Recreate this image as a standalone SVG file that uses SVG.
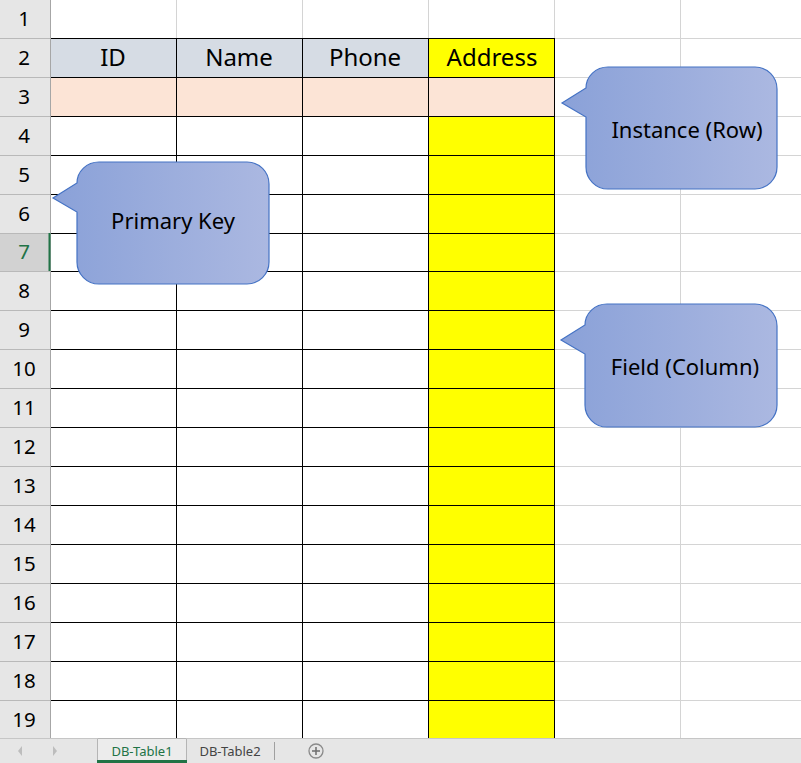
<svg xmlns="http://www.w3.org/2000/svg" width="801" height="763" viewBox="0 0 801 763">
<defs>
<linearGradient id="cg" x1="0" y1="0" x2="1" y2="0">
<stop offset="0" stop-color="#8aa1d8"/>
<stop offset="1" stop-color="#abb8e1"/>
</linearGradient>
<style>
.grid{stroke:#d4d4d4;stroke-width:1}
.blk{stroke:#000;stroke-width:1}
.rh{font-family:"Noto Sans","Open Sans",sans-serif;font-size:20.5px;fill:#000;text-anchor:middle}
.hd{font-family:"Noto Sans","Open Sans",sans-serif;font-size:24px;fill:#000;text-anchor:middle}
.co{fill:url(#cg);stroke:#4472c4;stroke-width:1.2}
.ct{font-family:"Noto Sans","Open Sans",sans-serif;font-size:22px;fill:#000;text-anchor:middle}
.tab{font-family:"Noto Sans","Open Sans",sans-serif;font-size:13px;text-anchor:middle}
</style>
</defs>
<rect x="0" y="0" width="801" height="763" fill="#fff"/>
<g id="sheet">
<g class="grid">
<line x1="176.5" y1="0" x2="176.5" y2="38"/>
<line x1="302.5" y1="0" x2="302.5" y2="38"/>
<line x1="428.5" y1="0" x2="428.5" y2="38"/>
<line x1="554.5" y1="0" x2="554.5" y2="38"/>
<line x1="680.5" y1="0" x2="680.5" y2="738"/>
<line x1="554" y1="38.5" x2="801" y2="38.5"/>
<line x1="554" y1="77.5" x2="801" y2="77.5"/>
<line x1="554" y1="116.5" x2="801" y2="116.5"/>
<line x1="554" y1="155.5" x2="801" y2="155.5"/>
<line x1="554" y1="194.5" x2="801" y2="194.5"/>
<line x1="554" y1="233.5" x2="801" y2="233.5"/>
<line x1="554" y1="271.5" x2="801" y2="271.5"/>
<line x1="554" y1="310.5" x2="801" y2="310.5"/>
<line x1="554" y1="349.5" x2="801" y2="349.5"/>
<line x1="554" y1="388.5" x2="801" y2="388.5"/>
<line x1="554" y1="427.5" x2="801" y2="427.5"/>
<line x1="554" y1="466.5" x2="801" y2="466.5"/>
<line x1="554" y1="505.5" x2="801" y2="505.5"/>
<line x1="554" y1="544.5" x2="801" y2="544.5"/>
<line x1="554" y1="583.5" x2="801" y2="583.5"/>
<line x1="554" y1="622.5" x2="801" y2="622.5"/>
<line x1="554" y1="661.5" x2="801" y2="661.5"/>
<line x1="554" y1="700.5" x2="801" y2="700.5"/>
</g>
<rect x="50" y="38" width="378" height="39" fill="#d6dce4"/>
<rect x="428" y="38" width="126" height="39" fill="#ffff00"/>
<rect x="50" y="77" width="504" height="39" fill="#fce4d6"/>
<rect x="428" y="116" width="126" height="622" fill="#ffff00"/>
<g class="blk">
<line x1="50" y1="38.5" x2="555" y2="38.5"/>
<line x1="50" y1="77.5" x2="555" y2="77.5"/>
<line x1="50" y1="116.5" x2="555" y2="116.5"/>
<line x1="50" y1="155.5" x2="555" y2="155.5"/>
<line x1="50" y1="194.5" x2="555" y2="194.5"/>
<line x1="50" y1="233.5" x2="555" y2="233.5"/>
<line x1="50" y1="271.5" x2="555" y2="271.5"/>
<line x1="50" y1="310.5" x2="555" y2="310.5"/>
<line x1="50" y1="349.5" x2="555" y2="349.5"/>
<line x1="50" y1="388.5" x2="555" y2="388.5"/>
<line x1="50" y1="427.5" x2="555" y2="427.5"/>
<line x1="50" y1="466.5" x2="555" y2="466.5"/>
<line x1="50" y1="505.5" x2="555" y2="505.5"/>
<line x1="50" y1="544.5" x2="555" y2="544.5"/>
<line x1="50" y1="583.5" x2="555" y2="583.5"/>
<line x1="50" y1="622.5" x2="555" y2="622.5"/>
<line x1="50" y1="661.5" x2="555" y2="661.5"/>
<line x1="50" y1="700.5" x2="555" y2="700.5"/>
<line x1="176.5" y1="38" x2="176.5" y2="738"/>
<line x1="302.5" y1="38" x2="302.5" y2="738"/>
<line x1="428.5" y1="38" x2="428.5" y2="738"/>
<line x1="554.5" y1="38" x2="554.5" y2="738"/>
</g>
<text class="hd" x="113" y="66">ID</text>
<text class="hd" x="239" y="66">Name</text>
<text class="hd" x="365" y="66">Phone</text>
<text class="hd" x="492" y="66">Address</text>
</g>
<g id="row-headers">
<rect x="0" y="0" width="50" height="738" fill="#e6e6e6"/>
<rect x="0" y="233" width="50" height="38" fill="#d2d2d2"/>
<g stroke="#b9b9b9" stroke-width="1">
<line x1="0" y1="38.5" x2="50" y2="38.5"/>
<line x1="0" y1="77.5" x2="50" y2="77.5"/>
<line x1="0" y1="116.5" x2="50" y2="116.5"/>
<line x1="0" y1="155.5" x2="50" y2="155.5"/>
<line x1="0" y1="194.5" x2="50" y2="194.5"/>
<line x1="0" y1="233.5" x2="50" y2="233.5"/>
<line x1="0" y1="271.5" x2="50" y2="271.5"/>
<line x1="0" y1="310.5" x2="50" y2="310.5"/>
<line x1="0" y1="349.5" x2="50" y2="349.5"/>
<line x1="0" y1="388.5" x2="50" y2="388.5"/>
<line x1="0" y1="427.5" x2="50" y2="427.5"/>
<line x1="0" y1="466.5" x2="50" y2="466.5"/>
<line x1="0" y1="505.5" x2="50" y2="505.5"/>
<line x1="0" y1="544.5" x2="50" y2="544.5"/>
<line x1="0" y1="583.5" x2="50" y2="583.5"/>
<line x1="0" y1="622.5" x2="50" y2="622.5"/>
<line x1="0" y1="661.5" x2="50" y2="661.5"/>
<line x1="0" y1="700.5" x2="50" y2="700.5"/>
</g>
<line x1="50.5" y1="0" x2="50.5" y2="738" stroke="#a6a6a6" stroke-width="1"/>
<rect x="48.5" y="233" width="2" height="38" fill="#217346"/>
<text class="rh" x="24" y="26">1</text>
<text class="rh" x="24" y="65">2</text>
<text class="rh" x="24" y="104">3</text>
<text class="rh" x="24" y="143">4</text>
<text class="rh" x="24" y="182">5</text>
<text class="rh" x="24" y="221">6</text>
<text class="rh" x="24" y="259" style="fill:#217346">7</text>
<text class="rh" x="24" y="298">8</text>
<text class="rh" x="24" y="337">9</text>
<text class="rh" x="24" y="376">10</text>
<text class="rh" x="24" y="415">11</text>
<text class="rh" x="24" y="454">12</text>
<text class="rh" x="24" y="493">13</text>
<text class="rh" x="24" y="532">14</text>
<text class="rh" x="24" y="571">15</text>
<text class="rh" x="24" y="610">16</text>
<text class="rh" x="24" y="649">17</text>
<text class="rh" x="24" y="688">18</text>
<text class="rh" x="24" y="727">19</text>
</g>
<g id="tab-bar">
<rect x="0" y="738" width="801" height="25" fill="#e6e6e6"/>
<line x1="0" y1="738.5" x2="801" y2="738.5" stroke="#c6c6c6"/>
<path d="M22,746 L22,756 L18,751 Z" fill="#bdbdbd"/>
<path d="M53,746 L53,756 L57,751 Z" fill="#bdbdbd"/>
<rect x="97" y="738" width="90" height="25" fill="#ececec"/>
<path d="M97.5,763 V738.5 H186.5 V763" fill="none" stroke="#b5b5b5"/>
<rect x="97" y="760" width="90" height="3" fill="#217346"/>
<text class="tab" x="142" y="756" fill="#217346">DB-Table1</text>
<text class="tab" x="230" y="756" fill="#444">DB-Table2</text>
<line x1="274.5" y1="742" x2="274.5" y2="760" stroke="#a0a0a0"/>
<circle cx="316" cy="751" r="7" fill="none" stroke="#8a8a8a" stroke-width="1.3"/>
<path d="M312,751 H320 M316,747 V755" stroke="#6e6e6e" stroke-width="1.5"/>
</g>
<g id="callout-primary-key">
<path class="co" d="M99,162 H247 A22 22 0 0 1 269,184 V262 A22 22 0 0 1 247,284 H99 A22 22 0 0 1 77,262 V212 L53,198 L77,183 A22 21 0 0 1 99,162 Z"/>
<text class="ct" x="173" y="229">Primary Key</text>
</g>
<g id="callout-instance">
<path class="co" d="M608,67 H755 A22 22 0 0 1 777,89 V167 A22 22 0 0 1 755,189 H608 A22 22 0 0 1 586,167 V117 L562,103 L586,88 A22 21 0 0 1 608,67 Z"/>
<text class="ct" x="687" y="138">Instance (Row)</text>
</g>
<g id="callout-field">
<path class="co" d="M607,304 H755 A22 22 0 0 1 777,326 V405 A22 22 0 0 1 755,427 H607 A22 22 0 0 1 585,405 V354 L561,340 L585,325 A22 21 0 0 1 607,304 Z"/>
<text class="ct" x="685" y="375">Field (Column)</text>
</g>
</svg>
